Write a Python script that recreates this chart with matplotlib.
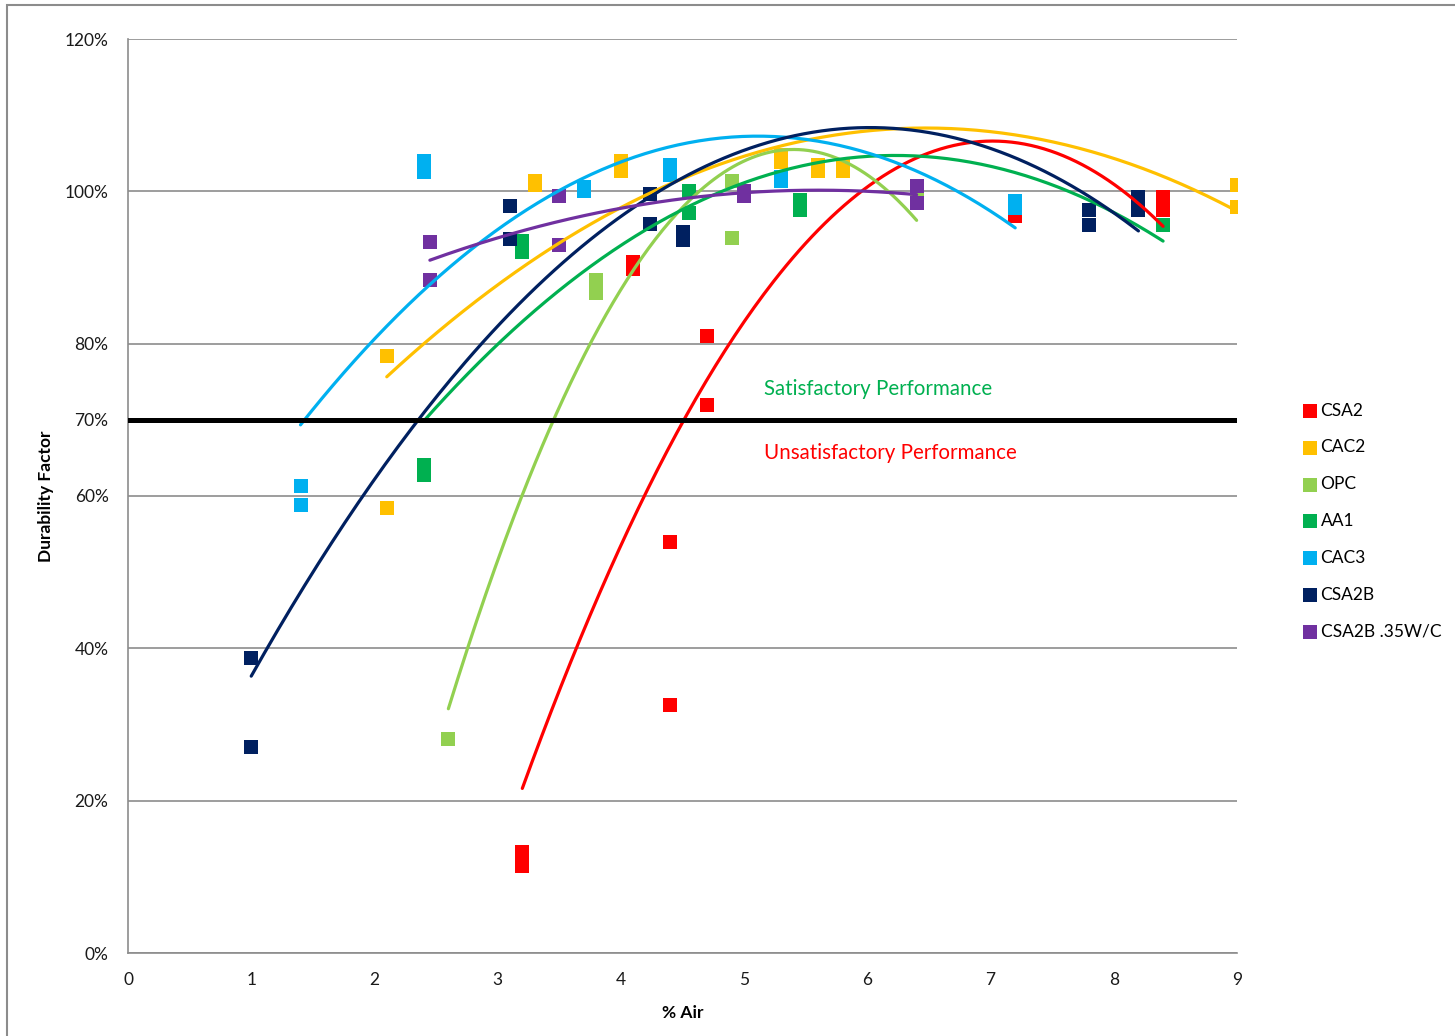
import numpy as np
import matplotlib
matplotlib.use("Agg")
import matplotlib.pyplot as plt
from matplotlib.patches import Rectangle

plt.rcParams['font.family'] = ['Lato', 'DejaVu Sans']

# durability factor (%) against air content (%), one list pair per mix
csa2_x = [3.2, 3.2, 4.1, 4.1, 4.4, 4.4, 4.7, 4.7, 7.2, 8.4, 8.4]
csa2_y = [13.3, 11.4, 90.7, 89.8, 54.0, 32.6, 81.0, 71.9, 96.8, 99.3, 97.5]

cac2_x = [2.1, 2.1, 3.3, 3.3, 4.0, 4.0, 5.3, 5.3, 5.6, 5.6, 5.8, 5.8, 9.0, 9.0]
cac2_y = [78.4, 58.4, 101.3, 100.8, 104.0, 102.7, 104.8, 103.8, 103.4, 102.7, 103.4, 102.7, 100.8, 97.9]

opc_x = [2.6, 3.8, 3.8, 4.9, 4.9, 6.4]
opc_y = [28.1, 88.4, 86.7, 101.4, 93.9, 99.0]

aa1_x = [2.4, 2.4, 3.2, 3.2, 4.55, 4.55, 5.45, 5.45, 8.4]
aa1_y = [64.1, 62.7, 93.5, 92.1, 100.0, 97.1, 98.8, 97.6, 95.6]

cac3_x = [1.4, 1.4, 2.4, 2.4, 3.7, 3.7, 4.4, 4.4, 5.3, 5.3, 7.2, 7.2]
cac3_y = [61.3, 58.8, 104.0, 102.5, 100.6, 100.1, 103.5, 102.1, 101.9, 101.4, 98.7, 97.8]

csa2b_x = [1.0, 1.0, 3.1, 3.1, 4.24, 4.24, 4.5, 4.5, 7.8, 7.8, 8.2, 8.2]
csa2b_y = [38.7, 27.1, 98.1, 93.7, 99.6, 95.7, 94.7, 93.6, 97.5, 95.6, 99.3, 97.5]

csa2b35_x = [2.45, 2.45, 3.5, 3.5, 5.0, 5.0, 6.4, 6.4]
csa2b35_y = [93.4, 88.4, 99.4, 93.0, 100.0, 99.4, 100.7, 98.5]

names = ['CSA2', 'CAC2', 'OPC', 'AA1', 'CAC3', 'CSA2B', 'CSA2B .35W/C']
colors = ['#FF0000', '#FFC000', '#92D050', '#00B050', '#00B0F0', '#002060', '#7030A0']
xs = [csa2_x, cac2_x, opc_x, aa1_x, cac3_x, csa2b_x, csa2b35_x]
ys = [csa2_y, cac2_y, opc_y, aa1_y, cac3_y, csa2b_y, csa2b35_y]

yticks = [0, 20, 40, 60, 70, 80, 100, 120]
xticks = list(range(10))

fig = plt.figure(figsize=(14.55, 10.36), dpi=100)
ax = fig.add_axes([128/1455, 1 - 953/1036, (1237-128)/1455, (953-39)/1036])

# outer chart frame
fig.patches.append(Rectangle((7/1455, -0.05), 1.1, 1 - 5/1036 + 0.05,
                             transform=fig.transFigure, fill=False,
                             edgecolor='#8c8c8c', linewidth=1.5, zorder=0))

for x, y, c, n in zip(xs, ys, colors, names):
    ax.scatter(x, y, marker='s', s=110, color=c, linewidths=0, label=n, zorder=3)

# second order trendline for each mix
for x, y, c in zip(xs, ys, colors):
    x = np.asarray(x)
    p = np.polyfit(x, np.asarray(y), 2)
    xx = np.linspace(x.min(), x.max(), 200)
    ax.plot(xx, np.polyval(p, xx), color=c, linewidth=2.3, zorder=4,
            solid_capstyle='round')

ax.axhline(70, color='black', linewidth=3.6, zorder=5)

ax.text(6.09, 74, 'Satisfactory Performance', color='#00B050', fontsize=14.8,
        ha='center', va='center')
ax.text(6.19, 65.7, 'Unsatisfactory Performance', color='#FF0000', fontsize=14.8,
        ha='center', va='center')

ax.set_xlim(0, 9)
ax.set_ylim(0, 120)
ax.set_xticks(xticks)
ax.set_yticks(yticks)
ax.set_yticklabels([f'{v}%' for v in yticks])
ax.tick_params(length=0, labelsize=12.5, colors='#1a1a1a')
ax.tick_params(axis='y', pad=14)
ax.tick_params(axis='x', pad=14)
ax.grid(axis='y', color='#8c8c8c', linewidth=1.2, zorder=0)
ax.set_axisbelow(True)
for side in ['top', 'right']:
    ax.spines[side].set_visible(False)
for side in ['left', 'bottom']:
    ax.spines[side].set_color('#8c8c8c')
    ax.spines[side].set_linewidth(1.2)

ax.set_xlabel('% Air', fontsize=12.5, fontweight='bold', labelpad=12)
ax.set_ylabel('Durability Factor', fontsize=12.5, fontweight='bold', labelpad=8)

fig.legend(loc='center left', bbox_to_anchor=(1298/1455, 1 - 521/1036),
           frameon=False, fontsize=12.5, handlelength=0.6, handletextpad=0.3,
           labelspacing=1.2, borderaxespad=0, markerscale=0.95)

fig.savefig('out.png', dpi=100)
